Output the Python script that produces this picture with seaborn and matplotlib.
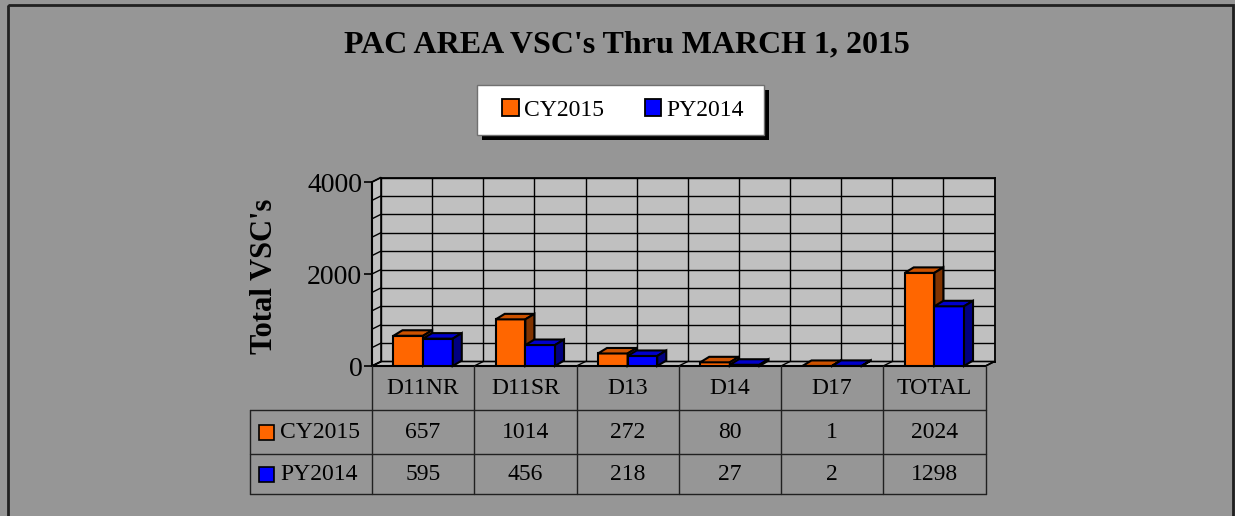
import numpy as np
import pandas as pd
import matplotlib
matplotlib.use("Agg")
import matplotlib.pyplot as plt
import seaborn as sns
from matplotlib.patches import Polygon, Rectangle, Patch
from matplotlib.transforms import IdentityTransform
from matplotlib.lines import Line2D

# ---------------- data ----------------
categories = ["D11NR", "D11SR", "D13", "D14", "D17", "TOTAL"]
series_names = ["CY2015", "PY2014"]
cy2015 = [657, 1014, 272, 80, 1, 2024]
py2014 = [595, 456, 218, 27, 2, 1298]
y_ticks = [0, 2000, 4000]
title = "PAC AREA VSC's Thru MARCH 1, 2015"
ylabel = "Total VSC's"

# ---------------- style ----------------
W, H = 1235, 516
BG = "#969696"
WALL = "#c0c0c0"
ORANGE, BLUE = "#ff6600", "#0000ff"
TOPS = ["#cc5200", "#0000cc"]
SIDES = ["#803300", "#000080"]

sns.set_theme(style="white")
plt.rcParams["font.family"] = ["Liberation Serif", "DejaVu Serif"]
plt.rcParams["text.color"] = "black"
plt.rcParams["axes.labelcolor"] = "black"
plt.rcParams["xtick.color"] = "black"
plt.rcParams["ytick.color"] = "black"

fig = plt.figure(figsize=(W / 100, H / 100), dpi=100, facecolor=BG)


def frac(x0, ytop, x1, ybot):
    return [x0 / W, 1 - ybot / H, (x1 - x0) / W, (ybot - ytop) / H]


FX0, FX1, FY0, FY1 = 372, 985.5, 366, 182  # front plane (pixels, top-origin)
DX, DY = 9, 4.5                             # wall depth offset
BDX, BDY = 9, 5.5                           # bar depth offset
YMAX = 4000

back = fig.add_axes(frac(FX0 + DX, FY1 - DY, FX1 + DX, FY0 - DY))
front = fig.add_axes(frac(FX0, FY1, FX1, FY0))
over = fig.add_axes([0, 0, 1, 1])
back.set_zorder(0)
front.set_zorder(1)
over.set_zorder(2)

# back wall with grid
back.set_facecolor(WALL)
back.set_xlim(-0.5, len(categories) - 0.5)
back.set_ylim(0, YMAX)
back.set_xticks(np.arange(-0.5, len(categories), 0.5))
back.set_yticks(np.arange(0, YMAX + 1, 400))
back.grid(True, color="black", lw=1)
back.tick_params(length=0, labelbottom=False, labelleft=False)
for s in back.spines.values():
    s.set_color("black")
    s.set_linewidth(1.3)

# bars (front faces) via seaborn
df = pd.DataFrame({
    "District": categories * 2,
    "Year": [series_names[0]] * len(categories) + [series_names[1]] * len(categories),
    "Count": cy2015 + py2014,
})
sns.barplot(data=df, x="District", y="Count", hue="Year", order=categories,
            hue_order=series_names, palette=[ORANGE, BLUE], saturation=1,
            width=0.58, edgecolor="black", linewidth=1.5, ax=front, legend=False)
front.set_facecolor("none")
front.set_xlim(-0.5, len(categories) - 0.5)
front.set_ylim(0, YMAX)
front.set_xlabel("")
front.set_ylabel("")
front.set_xticks([])
front.set_yticks(y_ticks)
front.set_yticklabels([str(v) for v in y_ticks])
front.tick_params(axis="y", direction="out", length=6, width=1.2, color="black",
                  labelsize=20, labelcolor="black", pad=1, left=True)
for k, s in front.spines.items():
    s.set_visible(False)

T = front.transData.transform
woff = np.array([DX, DY])   # display: right & up
boff = np.array([BDX, BDY])
n = len(categories)

# floor & side wall
floor = [T((-0.5, 0)), T((n - 0.5, 0)), T((n - 0.5, 0)) + woff, T((-0.5, 0)) + woff]
side = [T((-0.5, 0)), T((-0.5, YMAX)), T((-0.5, YMAX)) + woff, T((-0.5, 0)) + woff]
for pts in (floor, side):
    front.add_patch(Polygon(pts, closed=True, facecolor=WALL, edgecolor="black", lw=1.2,
                            transform=IdentityTransform(), clip_on=False, zorder=1))
for xv in np.arange(-0.5, n, 0.5):
    a = T((xv, 0))
    front.add_line(Line2D([a[0], a[0] + woff[0]], [a[1], a[1] + woff[1]], color="black",
                          lw=1, transform=IdentityTransform(), clip_on=False, zorder=1.5))
for yv in np.arange(0, YMAX + 1, 400):
    a = T((-0.5, yv))
    front.add_line(Line2D([a[0], a[0] + woff[0]], [a[1], a[1] + woff[1]], color="black",
                          lw=1, transform=IdentityTransform(), clip_on=False, zorder=1.5))
a, b = T((-0.5, 0)), T((n - 0.5, 0))
front.add_line(Line2D([a[0], b[0]], [a[1], b[1]], color="black", lw=1.5,
                      transform=IdentityTransform(), clip_on=False, zorder=2))
c = T((-0.5, YMAX))
front.add_line(Line2D([a[0], c[0]], [a[1], c[1]], color="black", lw=1.5,
                      transform=IdentityTransform(), clip_on=False, zorder=2))

# 3D faces for bars
bars = [p for p in front.patches if isinstance(p, Rectangle)]
for idx, p in enumerate(bars):
    i = 0 if idx < n else 1
    p.set_zorder(3 + 2 * i)
    x0, w, h = p.get_x(), p.get_width(), p.get_height()
    tl, tr, br = T((x0, h)), T((x0 + w, h)), T((x0 + w, 0))
    top = [tl, tr, tr + boff, tl + boff]
    sd = [br, tr, tr + boff, br + boff]
    front.add_patch(Polygon(top, closed=True, facecolor=TOPS[i], edgecolor="black", lw=1.5,
                            transform=IdentityTransform(), clip_on=False, zorder=3 + 2 * i))
    front.add_patch(Polygon(sd, closed=True, facecolor=SIDES[i], edgecolor="black", lw=1.5,
                            transform=IdentityTransform(), clip_on=False, zorder=3 + 2 * i))
front.set_xlim(-0.5, n - 0.5)
front.set_ylim(0, YMAX)

# ---------------- overlay (pixel coords, top-origin) ----------------
over.set_xlim(0, W)
over.set_ylim(H, 0)
over.axis("off")

over.add_patch(Rectangle((8, 5), 1225, 530, fill=False, edgecolor="#202020", lw=2, clip_on=False))

fig.text(627 / W, 1 - 45 / H, title, fontsize=23, fontweight="bold", ha="center", va="center",
         color="black")
fig.text(265 / W, 1 - 276 / H, ylabel, fontsize=22, fontweight="bold", rotation=90,
         ha="center", va="center", color="black")

# legend box with shadow
over.add_patch(Rectangle((482, 90), 287, 50, facecolor="black", edgecolor="none"))
over.add_patch(Rectangle((477, 85), 287, 50, facecolor="white", edgecolor="#707070", lw=1))
handles = [Patch(facecolor=ORANGE, edgecolor="black", lw=1.3),
           Patch(facecolor=BLUE, edgecolor="black", lw=1.3)]
fig.legend(handles, series_names, loc="center", bbox_to_anchor=(623 / W, 1 - 110 / H),
           ncol=2, frameon=False, fontsize=17, handlelength=0.7, handleheight=0.7,
           handletextpad=0.2, columnspacing=1.75, labelcolor="black")

# data table
xb = [front.transData.transform((k - 0.5, 0))[0] for k in range(n + 1)]
xc = [front.transData.transform((k, 0))[0] for k in range(n)]
TOP, R1, R2, R3 = 366, 410, 454, 494
LEFT = 250
lc = "#202020"
for x in xb:
    over.plot([x, x], [TOP, R3], color=lc, lw=1)
over.plot([LEFT, LEFT], [R1, R3], color=lc, lw=1)
for y in (R1, R2, R3):
    over.plot([LEFT, xb[-1]], [y, y], color=lc, lw=1)
for x, cat in zip(xc, categories):
    over.text(x, (TOP + R1) / 2 + 1, cat, ha="center", va="center", fontsize=17, color="black")
rows = [(series_names[0], cy2015, ORANGE), (series_names[1], py2014, BLUE)]
for (name, vals, col), (y0, y1) in zip(rows, [(R1, R2), (R2, R3)]):
    yc = (y0 + y1) / 2
    over.add_patch(Rectangle((259, yc - 7.5), 15, 15, facecolor=col, edgecolor="black", lw=1.2))
    over.text(280, yc + 1, name, ha="left", va="center", fontsize=17, color="black")
    for x, v in zip(xc, vals):
        over.text(x, yc + 1, str(v), ha="center", va="center", fontsize=17, color="black")

fig.savefig("out.png", dpi=100, facecolor=BG)
